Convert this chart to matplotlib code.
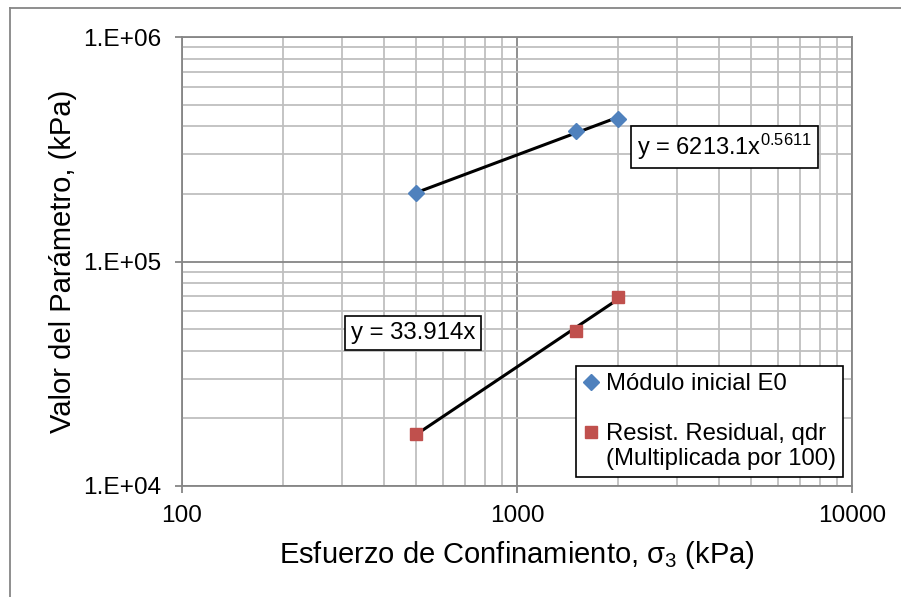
import numpy as np
import matplotlib
matplotlib.use("Agg")
import matplotlib.pyplot as plt
from matplotlib.lines import Line2D
from matplotlib.ticker import FuncFormatter, LogLocator, NullFormatter

plt.rcParams['font.family'] = ['Liberation Sans', 'DejaVu Sans']
plt.rcParams['mathtext.fontset'] = 'custom'
plt.rcParams['mathtext.rm'] = 'Liberation Sans'

# data
sigma3 = [500, 1500, 2000]
modulo_e0 = [201700, 382000, 431500]
resist_qdr = [17000, 49000, 69200]   # multiplicada por 100

x_ticks = [100, 1000, 10000]
y_ticks = [1e4, 1e5, 1e6]

blue = '#4F81BD'
red = '#C0504D'
grid_major = '#868686'
grid_minor = '#BFBFBF'

fig = plt.figure(figsize=(9.01, 5.97), dpi=100)
ax = fig.add_axes([182/901, 1-486/597, (852-182)/901, (486-37)/597])
ax.set_xscale('log')
ax.set_yscale('log')
ax.set_xlim(100, 10000)
ax.set_ylim(1e4, 1e6)

# trendlines (power fit for E0, linear through origin for qdr)
xs = np.array(sigma3, dtype=float)
xx = np.geomspace(xs.min(), xs.max(), 50)
b, ln_a = np.polyfit(np.log(xs), np.log(modulo_e0), 1)
ax.plot(xx, np.exp(ln_a) * xx**b, color='black', lw=2.2, zorder=3)
k = np.sum(xs * np.array(resist_qdr)) / np.sum(xs**2)
ax.plot(xx, k * xx, color='black', lw=2.2, zorder=3)

ax.plot(sigma3, modulo_e0, linestyle='none', marker='D', ms=8, color=blue, zorder=4)
ax.plot(sigma3, resist_qdr, linestyle='none', marker='s', ms=8.8, color=red, zorder=4)

# grid and ticks
ax.xaxis.set_minor_locator(LogLocator(base=10, subs=np.arange(2, 10)))
ax.yaxis.set_minor_locator(LogLocator(base=10, subs=np.arange(2, 10)))
ax.xaxis.set_minor_formatter(NullFormatter())
ax.yaxis.set_minor_formatter(NullFormatter())
ax.grid(True, which='minor', color=grid_minor, lw=1.3, zorder=0)
ax.grid(True, which='major', color=grid_major, lw=1.3, zorder=0)
ax.set_axisbelow(True)
ax.set_xticks(x_ticks)
ax.set_yticks(y_ticks)
ax.xaxis.set_major_formatter(FuncFormatter(lambda v, p: f"{int(round(v))}"))
ax.yaxis.set_major_formatter(FuncFormatter(lambda v, p: f"1.E+{int(round(np.log10(v))):02d}"))
ax.tick_params(which='major', length=5, width=1.3, color=grid_major, labelsize=17.6)
ax.tick_params(axis='y', pad=10)
ax.tick_params(axis='x', pad=9)
ax.tick_params(which='minor', length=0)
for s in ax.spines.values():
    s.set_color(grid_major)
    s.set_linewidth(1.3)

ax.set_xlabel('Esfuerzo de Confinamiento, σ$\\mathregular{_3}$ (kPa)', fontsize=21, labelpad=8)
ax.set_ylabel('Valor del Parámetro, (kPa)', fontsize=21, labelpad=4)

# trendline equations
box = dict(boxstyle='square,pad=0.25', facecolor='white', edgecolor='black', lw=1.2)
ax.text(0.679, 0.755, 'y = 6213.1x$\\mathregular{^{0.5611}}$', transform=ax.transAxes,
        fontsize=17, va='center', ha='left', bbox=box, zorder=5)
ax.text(0.252, 0.34, 'y = 33.914x', transform=ax.transAxes,
        fontsize=17.3, va='center', ha='left', bbox=box, zorder=5)

# legend
blank = Line2D([], [], linestyle='none')
handles = [Line2D([], [], linestyle='none', marker='D', ms=8, color=blue), blank,
           Line2D([], [], linestyle='none', marker='s', ms=8.8, color=red), blank]
labels = ['Módulo inicial E0', '', 'Resist. Residual, qdr', '(Multiplicada por 100)']
leg = ax.legend(handles, labels, loc='lower right', bbox_to_anchor=(0.987, 0.02),
                fontsize=17.2, frameon=True, fancybox=False, framealpha=1,
                edgecolor='black', handlelength=0.6, handletextpad=0.35,
                labelspacing=0.12, borderpad=0.3, borderaxespad=0)
leg.get_frame().set_linewidth(1.2)

# chart area border
fig.add_artist(Line2D([10/901, 10/901], [0, 1-8/597], color=grid_major, lw=1.3))
fig.add_artist(Line2D([10/901, 1], [1-8/597, 1-8/597], color=grid_major, lw=1.3))

fig.savefig('out.png', dpi=100)
